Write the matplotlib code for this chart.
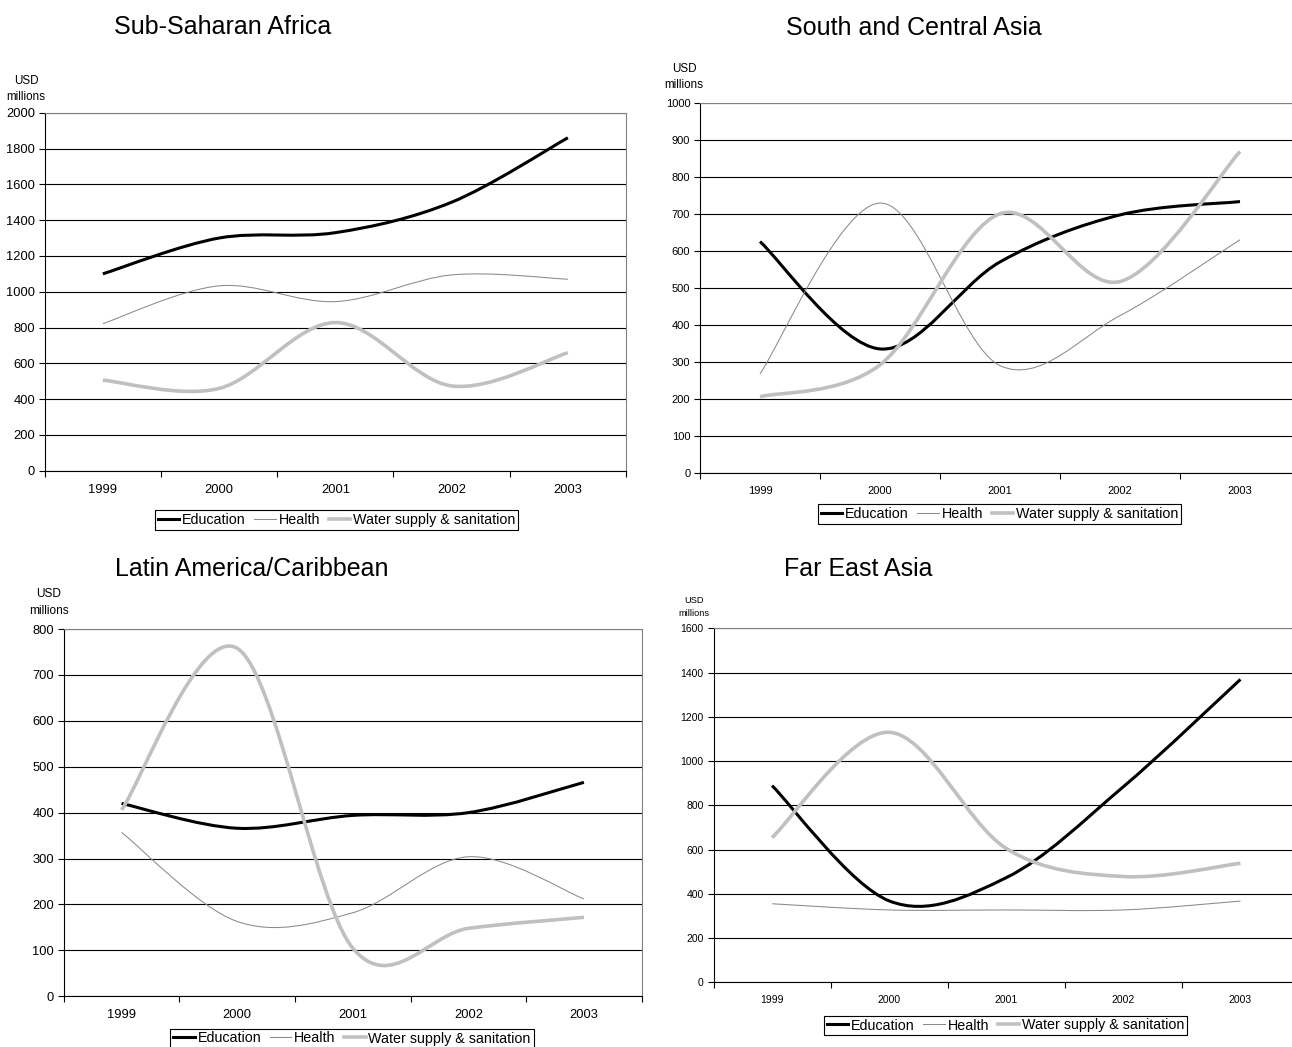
import numpy as np
import matplotlib.pyplot as plt
from matplotlib.path import Path
from matplotlib.patches import PathPatch
from matplotlib.lines import Line2D

plt.rcParams['font.family'] = ['Liberation Sans', 'DejaVu Sans']

years = ['1999', '2000', '2001', '2002', '2003']
series_names = ['Education', 'Health', 'Water supply & sanitation']

# USD millions
ssa_education = [1100, 1300, 1330, 1500, 1860]
ssa_health = [822, 1033, 945, 1094, 1070]
ssa_water = [506, 460, 828, 474, 659]

sca_education = [625, 335, 570, 697, 733]
sca_health = [268, 729, 290, 425, 630]
sca_water = [206, 292, 700, 517, 868]

lac_education = [420, 366, 394, 400, 466]
lac_health = [357, 163, 182, 304, 212]
lac_water = [406, 758, 105, 148, 172]

fea_education = [889, 368, 473, 884, 1369]
fea_health = [355, 327, 327, 327, 367]
fea_water = [654, 1130, 605, 478, 538]

W, H = 1292, 1047
fig = plt.figure(figsize=(W / 100, H / 100), dpi=100)

styles = [dict(color='black', lw=2.2),
          dict(color='#8a8a8a', lw=0.75),
          dict(color='#c0c0c0', lw=2.6)]


def smooth_path(ys):
    # excel-like smoothed line: cubic bezier through every point
    pts = np.column_stack([np.arange(len(ys)), ys]).astype(float)
    ext = np.vstack([pts[0], pts, pts[-1]])
    verts, codes = [pts[0]], [Path.MOVETO]
    for i in range(len(pts) - 1):
        p0, p1, p2, p3 = ext[i], ext[i + 1], ext[i + 2], ext[i + 3]
        verts += [p1 + (p2 - p0) / 6, p2 - (p3 - p1) / 6, p2]
        codes += [Path.CURVE4] * 3
    return Path(verts, codes)


def panel(box, data, ymax, ystep, title, title_xy, unit_xy, unit_fs, tick_fs, leg_xy):
    l, r, t, b = box
    ax = fig.add_axes([l / W, 1 - b / H, (r - l) / W, (b - t) / H])
    for ys, st in zip(data, styles):
        ax.add_patch(PathPatch(smooth_path(ys), fill=False, edgecolor=st['color'],
                               lw=st['lw'], zorder=3, capstyle='butt'))
    ax.set_xlim(-0.5, 4.5)
    ax.set_ylim(0, ymax)
    ax.set_yticks(np.arange(0, ymax + 1, ystep))
    ax.set_xticks(np.arange(-0.5, 5, 1))
    ax.set_xticks(range(len(years)), years, minor=True)
    ax.tick_params(axis='x', which='major', length=4, width=0.8, labelbottom=False)
    ax.tick_params(axis='x', which='minor', length=0, pad=9.5, labelsize=tick_fs)
    ax.tick_params(axis='y', length=4, width=0.8, pad=3, labelsize=tick_fs)
    ax.yaxis.grid(True, color='black', lw=0.8)
    ax.set_axisbelow(True)
    for s in ['left', 'bottom']:
        ax.spines[s].set_color('black')
        ax.spines[s].set_linewidth(0.8)
    for s in ['top', 'right']:
        ax.spines[s].set_color('#808080')
        ax.spines[s].set_linewidth(0.8)

    fig.text(title_xy[0] / W, 1 - title_xy[1] / H, title, fontsize=18,
             ha='center', va='center')
    fig.text(unit_xy[0] / W, 1 - unit_xy[1] / H, 'USD', fontsize=unit_fs,
             ha='center', va='center')
    fig.text(unit_xy[0] / W, 1 - (unit_xy[1] + unit_fs * 1.95) / H, 'millions',
             fontsize=unit_fs, ha='center', va='center')

    handles = [Line2D([], [], **st) for st in styles]
    leg = ax.legend(handles, series_names, loc='center',
                    bbox_to_anchor=(leg_xy[0] / W, 1 - leg_xy[1] / H),
                    bbox_transform=fig.transFigure, ncol=3, fancybox=False,
                    edgecolor='black', framealpha=1, borderpad=0.2,
                    handlelength=1.5, handletextpad=0.2, columnspacing=0.6,
                    fontsize=10.3, borderaxespad=0)
    leg.get_frame().set_linewidth(0.8)
    return ax


panel((44.7, 626, 112.7, 470.8), [ssa_education, ssa_health, ssa_water], 2000, 200,
      'Sub-Saharan Africa', (223, 27), (26, 80.7), 8.4, 9.3, (336.7, 520))
panel((700, 1300, 102.7, 473), [sca_education, sca_health, sca_water], 1000, 100,
      'South and Central Asia', (914, 28), (684, 69), 8.4, 8, (999.7, 514))
panel((63.8, 641.7, 629, 996.3), [lac_education, lac_health, lac_water], 800, 100,
      'Latin America/Caribbean', (252, 569), (49, 594), 8.6, 9.3, (352, 1038.5))
panel((713.5, 1299, 628.3, 982.3), [fea_education, fea_health, fea_water], 1600, 200,
      'Far East Asia', (858, 569), (694, 600.7), 6.7, 7.5, (1005.5, 1025.5))

fig.savefig('out.png', dpi=100)
